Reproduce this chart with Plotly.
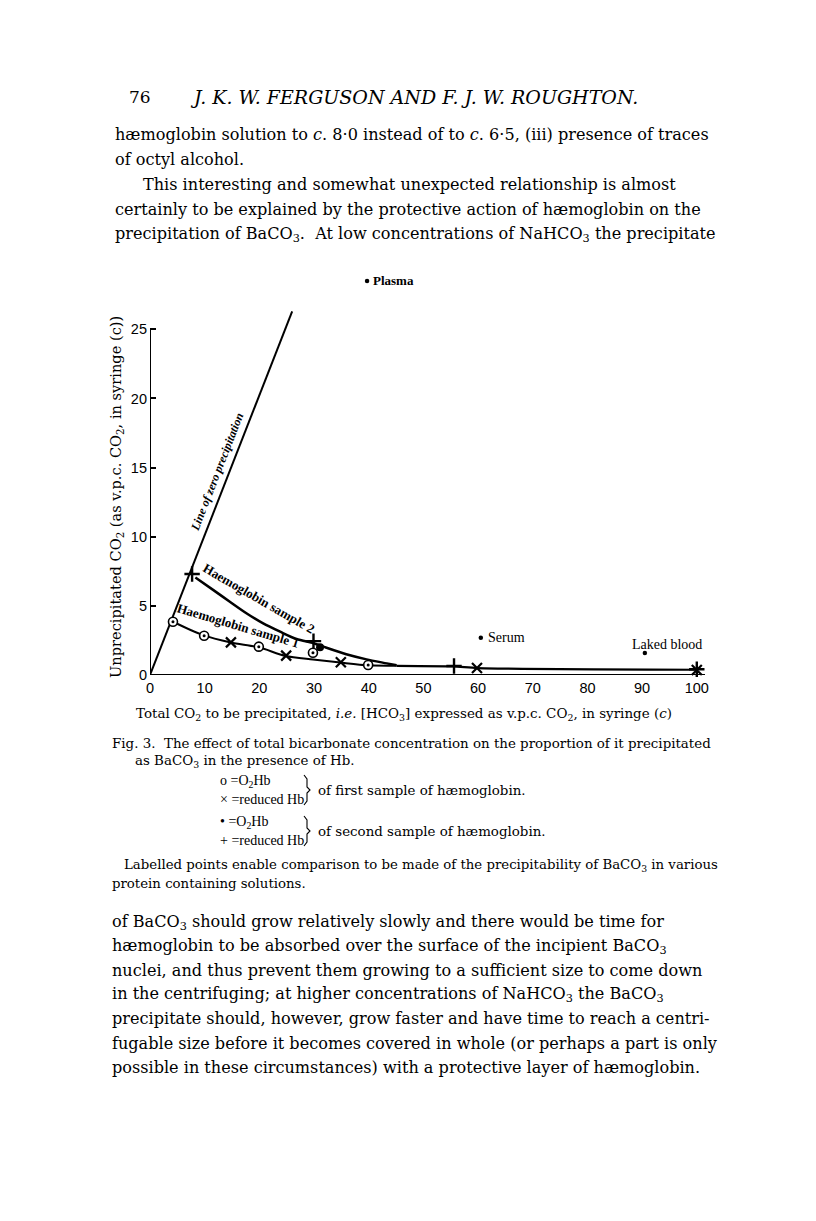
import plotly.graph_objects as go

# ---------------- data ----------------
zero_line_x = [0, 26.0]
zero_line_y = [0, 26.3]

curve1_x = [4.2, 9.6, 14.8, 19.9, 24.8, 29.8, 34.8, 39.9, 45.1]
curve1_y = [3.85, 2.9, 2.35, 2.0, 1.38, 1.12, 0.9, 0.7, 0.66]
curve2_x = [8.3, 11.6, 14.6, 17.7, 20.7, 23.8, 26.8, 29.9, 31.7, 35.9, 39.6, 43.3, 45.1]
curve2_y = [7.05, 6.14, 5.3, 4.45, 3.73, 3.13, 2.6, 2.3, 2.05, 1.5, 1.13, 0.84, 0.7]
tail_x = [45.1, 55.6, 59.8, 100]
tail_y = [0.66, 0.62, 0.5, 0.38]

s1_o2hb_x = [4.2, 9.9, 19.9, 29.8, 39.9]
s1_o2hb_y = [3.85, 2.84, 2.05, 1.61, 0.72]
s1_red_x = [14.8, 24.9, 34.9, 59.8, 100]
s1_red_y = [2.36, 1.4, 0.92, 0.5, 0.36]
s2_o2hb_x = [31.1]
s2_o2hb_y = [2.0]
s2_red_x = [7.7, 29.9, 55.6, 100]
s2_red_y = [7.3, 2.45, 0.65, 0.42]

labelled_names = ["Plasma", "Serum", "Laked blood"]
labelled_x = [39.7, 60.5, 90.5]
labelled_y = [28.5, 2.7, 1.6]

x_ticks = [0, 10, 20, 30, 40, 50, 60, 70, 80, 90, 100]
y_ticks = [0, 5, 10, 15, 20, 25]

# ---------------- layout geometry ----------------
OFF = 8  # browser body margin
W, H = 816 - OFF, 1221 - OFF
L, R, T, B = 150 - OFF, 111, 274 - OFF, 546
PW, PH = W - L - R, H - T - B


def px(x):
    return (x - OFF - L) / PW


def py(y):
    return (H - B - (y - OFF)) / PH


SERIF = "Liberation Serif, Times New Roman, serif"
BOOK = "DejaVu Serif, serif"
TICK = "Liberation Sans Narrow, Liberation Sans, Arial Narrow, sans-serif"

fig = go.Figure()

fig.add_trace(go.Scatter(x=zero_line_x, y=zero_line_y, mode="lines",
                         line=dict(color="black", width=2), showlegend=False))
fig.add_trace(go.Scatter(x=curve1_x, y=curve1_y, mode="lines",
                         line=dict(color="black", width=2, shape="spline", smoothing=0.8),
                         showlegend=False))
fig.add_trace(go.Scatter(x=curve2_x, y=curve2_y, mode="lines",
                         line=dict(color="black", width=2.5, shape="spline", smoothing=0.8),
                         showlegend=False))
fig.add_trace(go.Scatter(x=tail_x, y=tail_y, mode="lines",
                         line=dict(color="black", width=2.2, shape="spline", smoothing=0.5),
                         showlegend=False))

# markers
fig.add_trace(go.Scatter(x=s1_o2hb_x, y=s1_o2hb_y, mode="markers",
                         marker=dict(symbol="circle", size=9, color="white",
                                     line=dict(color="black", width=1.6)),
                         cliponaxis=False, showlegend=False))
fig.add_trace(go.Scatter(x=s1_o2hb_x, y=s1_o2hb_y, mode="markers",
                         marker=dict(symbol="circle", size=3, color="black"),
                         cliponaxis=False, showlegend=False))
fig.add_trace(go.Scatter(x=s1_red_x, y=s1_red_y, mode="markers",
                         marker=dict(symbol="x-thin", size=10,
                                     line=dict(color="black", width=2.2)),
                         cliponaxis=False, showlegend=False))
fig.add_trace(go.Scatter(x=s2_o2hb_x, y=s2_o2hb_y, mode="markers",
                         marker=dict(symbol="circle", size=8, color="black"),
                         cliponaxis=False, showlegend=False))
fig.add_trace(go.Scatter(x=s2_red_x, y=s2_red_y, mode="markers",
                         marker=dict(symbol="cross-thin", size=11,
                                     line=dict(color="black", width=2.4)),
                         cliponaxis=False, showlegend=False))
fig.add_trace(go.Scatter(x=labelled_x, y=labelled_y, mode="markers",
                         marker=dict(symbol="circle", size=4.5, color="black"),
                         cliponaxis=False, showlegend=False))

# axis lines as shapes
fig.add_shape(type="line", x0=0, x1=101.5, y0=0, y1=0, xref="x", yref="y",
              line=dict(color="black", width=2))
fig.add_shape(type="line", x0=0, x1=0, y0=0, y1=25, xref="x", yref="y",
              line=dict(color="black", width=2))


def brace_path(xp, ytop, ybot):
    ym = (ytop + ybot) / 2
    pts = [(xp, ytop), (xp + 3, ytop + 4), (xp + 3, ym - 3), (xp + 6, ym),
           (xp + 3, ym + 3), (xp + 3, ybot - 4), (xp, ybot)]
    s = ""
    for i, (a, b) in enumerate(pts):
        s += ("M" if i == 0 else "L") + f" {px(a):.5f},{py(b):.5f} "
    return s


for (yt, yb) in [(775, 805), (816, 846)]:
    fig.add_shape(type="path", xref="paper", yref="paper", path=brace_path(304, yt, yb),
                  line=dict(color="black", width=1.1))

fig.update_xaxes(range=[0, 101.5], showgrid=False, zeroline=False, showline=False,
                 tickvals=x_ticks, ticks="", ticklabelstandoff=2,
                 tickfont=dict(family=TICK, size=14.5, color="black"))
fig.update_yaxes(range=[0, 29], showgrid=False, zeroline=False, showline=False,
                 tickvals=y_ticks, ticks="inside", ticklen=6, tickwidth=2, tickcolor="black",
                 ticklabelstandoff=2,
                 tickfont=dict(family=TICK, size=14.5, color="black"))

ann = []


def text(x, y, s, size=18, anchor="left", angle=0, family=BOOK):
    ann.append(dict(x=px(x), y=py(y), xref="paper", yref="paper", text=s,
                    showarrow=False, xanchor=anchor, yanchor="middle", textangle=angle,
                    font=dict(family=family, size=size, color="black")))


# chart labels
text(371, 280, "<b>Plasma</b>", 13, family=SERIF)
text(486, 637, "Serum", 14, family=SERIF)
text(630, 644, "Laked blood", 14, family=SERIF)
text(217, 472, "<b><i>Line of zero precipitation</i></b>", 12, anchor="center", angle=-68.7, family=SERIF)
text(259, 598, "<b>Haemoglobin sample 2</b>", 13, anchor="center", angle=30, family=SERIF)
text(238, 625, "<b>Haemoglobin sample 1</b>", 13, anchor="center", angle=16.5, family=SERIF)
text(116, 497, "Unprecipitated CO<sub>2</sub> (as v.p.c. CO<sub>2</sub>, in syringe (c))", 14.6,
     anchor="center", angle=-90)
text(134, 714, "Total CO<sub>2</sub> to be precipitated, <i>i.e.</i> [HCO<sub>3</sub>] expressed as v.p.c. CO<sub>2</sub>, in syringe (<i>c</i>)", 13.45)

# page text
text(127, 97, "76", 17)
text(188, 97, "<i>J. K. W. FERGUSON AND F. J. W. ROUGHTON.</i>", 19)
body_top = [
    (113, 135, "hæmoglobin solution to <i>c</i>. 8·0 instead of to <i>c</i>. 6·5, (iii) presence of traces"),
    (113, 159, "of octyl alcohol."),
    (141, 185, "This interesting and somewhat unexpected relationship is almost"),
    (113, 209, "certainly to be explained by the protective action of hæmoglobin on the"),
    (113, 234, "precipitation of BaCO<sub>3</sub>.  At low concentrations of NaHCO<sub>3</sub> the precipitate"),
]
for xx, yy, s in body_top:
    text(xx, yy, s, 16.1)

caption = [
    (110, 743, "Fig. 3.  The effect of total bicarbonate concentration on the proportion of it precipitated", 13.4, BOOK),
    (133, 761, "as BaCO<sub>3</sub> in the presence of Hb.", 13.4, BOOK),
    (218, 781, "o =O<sub>2</sub>Hb", 14, SERIF),
    (218, 799, "× =reduced Hb", 14, SERIF),
    (316, 790, "of first sample of hæmoglobin.", 13.4, BOOK),
    (218, 822, "• =O<sub>2</sub>Hb", 14, SERIF),
    (218, 840, "+ =reduced Hb", 14, SERIF),
    (316, 831, "of second sample of hæmoglobin.", 13.4, BOOK),
    (122, 865, "Labelled points enable comparison to be made of the precipitability of BaCO<sub>3</sub> in various", 13.3, BOOK),
    (110, 883, "protein containing solutions.", 13.3, BOOK),
]
for xx, yy, s, sz, fam in caption:
    text(xx, yy, s, sz, family=fam)

body_bottom = [
    "of BaCO<sub>3</sub> should grow relatively slowly and there would be time for",
    "hæmoglobin to be absorbed over the surface of the incipient BaCO<sub>3</sub>",
    "nuclei, and thus prevent them growing to a sufficient size to come down",
    "in the centrifuging; at higher concentrations of NaHCO<sub>3</sub> the BaCO<sub>3</sub>",
    "precipitate should, however, grow faster and have time to reach a centri-",
    "fugable size before it becomes covered in whole (or perhaps a part is only",
    "possible in these circumstances) with a protective layer of hæmoglobin.",
]
for i, s in enumerate(body_bottom):
    text(110, 922 + i * 24.2, s, 16.1)

fig.update_layout(width=W, height=H, margin=dict(l=L, r=R, t=T, b=B, pad=0),
                  paper_bgcolor="white", plot_bgcolor="white", showlegend=False,
                  annotations=ann, font=dict(family=SERIF, color="black"))

fig.write_html("out.html")
